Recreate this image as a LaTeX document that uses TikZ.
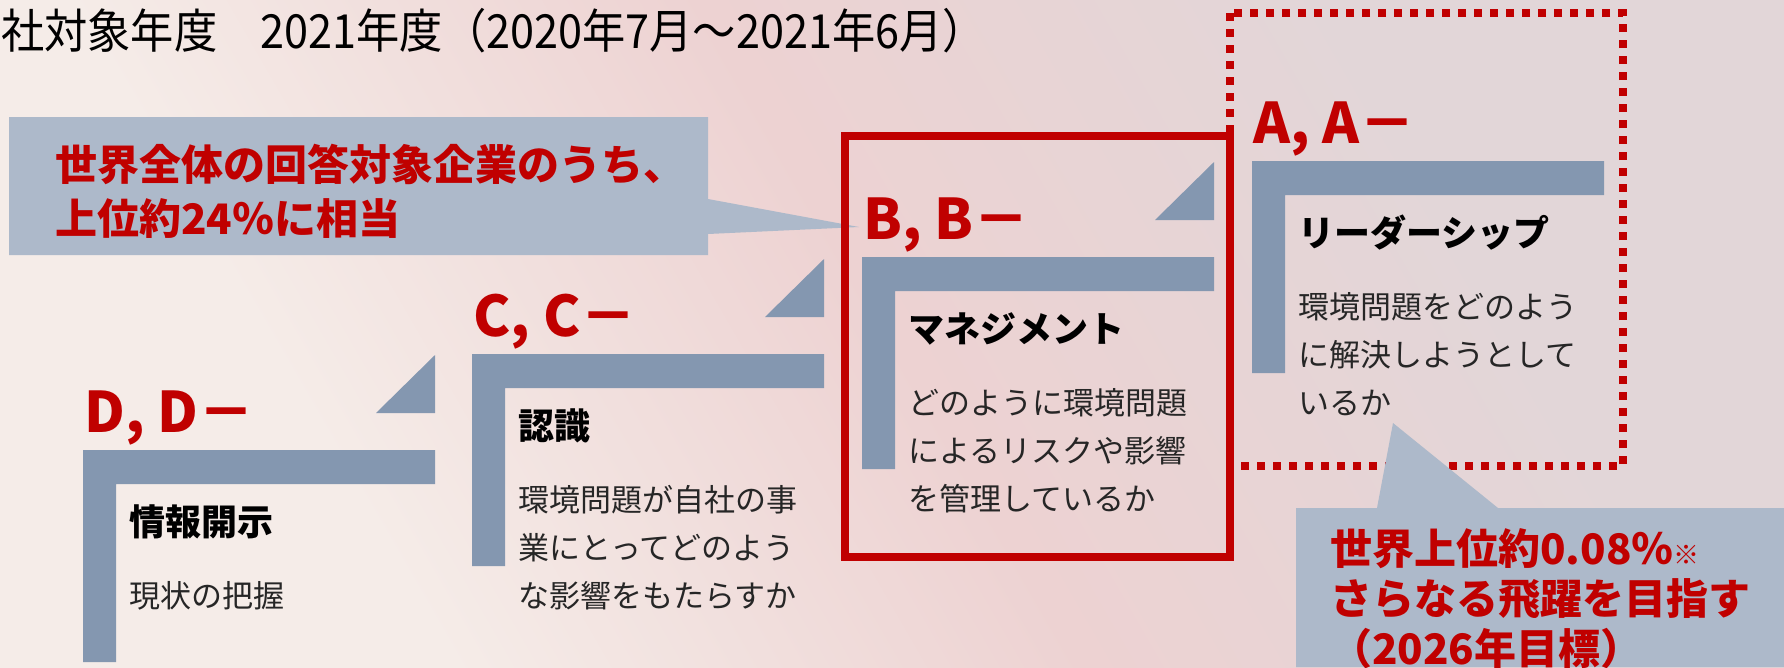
\documentclass[tikz,border=0pt]{standalone}
\usepackage{fontspec}
\setmainfont{Noto Sans CJK JP}
\newfontfamily\titlefont[FakeStretch=0.92]{Noto Sans CJK JP}
\definecolor{redc}{HTML}{C00000}
\definecolor{barc}{HTML}{8497B0}
\definecolor{callc}{HTML}{ADB9CA}
\definecolor{bgA}{HTML}{F5ECE8}
\definecolor{bgB}{HTML}{EDD2D2}
\definecolor{bgC}{HTML}{E2D6D8}
\pgfdeclarehorizontalshading{bgshade}{100bp}{color(0bp)=(bgA); color(30bp)=(bgA); color(50bp)=(bgB); color(70bp)=(bgC); color(100bp)=(bgC)}
\tikzset{
  lbl/.style={anchor=base west, inner sep=0, text=redc, font=\fontsize{56}{60}\selectfont\bfseries},
  head/.style={anchor=base west, inner sep=0, font=\fontsize{36}{40}\selectfont\bfseries},
  desc/.style={anchor=base west, inner sep=0, text=black!85, font=\fontsize{31}{40}\selectfont},
  bar/.style={fill=barc},
  callout/.style={fill=callc},
  ctext/.style={anchor=base west, inner sep=0, text=redc, font=\fontsize{42}{50}\selectfont\bfseries},
}
\begin{document}
\begin{tikzpicture}[x=1pt,y=-1pt]
\useasboundingbox (0,0) rectangle (1784,667);
\shade[shading=bgshade, shading angle=30] (0,0) rectangle (1784,667);

% title
\node[anchor=base west, inner sep=0, font=\titlefont\fontsize{47}{52}\selectfont] (title) at (1,48) {社対象年度　2021年度（2020年7月～2021年6月）};

% dotted target box (A)
\draw[redc, line width=8, dash pattern=on 8 off 8] (1230,13) rectangle (1623,466);

% steps
\fill[bar] (83,450) -- ++(352,0) -- ++(0,34) -- ++(-319,0) -- ++(0,178) -- ++(-33,0) -- cycle;
\fill[bar] (376,413) -- (435,413) -- (435,355) -- cycle;
\fill[bar] (472,354) -- ++(352,0) -- ++(0,34) -- ++(-319,0) -- ++(0,178) -- ++(-33,0) -- cycle;
\fill[bar] (765,317) -- (824,317) -- (824,259) -- cycle;
\fill[bar] (862,257) -- ++(352,0) -- ++(0,34) -- ++(-319,0) -- ++(0,178) -- ++(-33,0) -- cycle;
\fill[bar] (1155,220) -- (1214,220) -- (1214,162) -- cycle;
\fill[bar] (1252,161) -- ++(352,0) -- ++(0,34) -- ++(-319,0) -- ++(0,178) -- ++(-33,0) -- cycle;

% labels
\node[lbl] (ld) at (84,432) {D, D－};
\node[lbl] (lc) at (473,336) {C, C－};
\node[lbl] (lb) at (863,239) {B, B－};
\node[lbl] (la) at (1253,143) {A, A－};

% headings
\node[head] (hd) at (129,535) {情報開示};
\node[head] (hc) at (518,439) {認識};
\node[head] (hb) at (908,342) {マネジメント};
\node[head] (ha) at (1298,246) {リーダーシップ};

% descriptions
\node[desc] (dd1) at (129,607) {現状の把握};
\node[desc] (dc1) at (518,511) {環境問題が自社の事};
\node[desc] (dc2) at (518,559) {業にとってどのよう};
\node[desc] (dc3) at (518,607) {な影響をもたらすか};
\node[desc] (db1) at (908,414) {どのように環境問題};
\node[desc] (db2) at (908,462) {によるリスクや影響};
\node[desc] (db3) at (908,510) {を管理しているか};
\node[desc] (da1) at (1298,318) {環境問題をどのよう};
\node[desc] (da2) at (1298,366) {に解決しようとして};
\node[desc] (da3) at (1298,414) {いるか};

% callout 1
\fill[callout] (9,117) -- (708,117) -- (708,199) -- (859,227) -- (708,234) -- (708,255) -- (9,255) -- cycle;
\node[ctext] (c11) at (55,180) {世界全体の回答対象企業のうち、};
\node[ctext] (c12) at (55,234) {上位約24％に相当};

% callout 2
\fill[callout] (1296,508) -- (1377,508) -- (1393,423) -- (1498,508) -- (1784,508) -- (1784,667) -- (1296,667) -- cycle;
\node[ctext] (c21) at (1330,564) {世界上位約0.08％{\mdseries\fontsize{26}{30}\selectfont ※}};
\node[ctext] (c22) at (1330,614) {さらなる飛躍を目指す};
\node[ctext] (c23) at (1330,664) {（2026年目標）};

% red frame (B)
\draw[redc, line width=8] (845,136) rectangle (1230,557);
\end{tikzpicture}
\end{document}
